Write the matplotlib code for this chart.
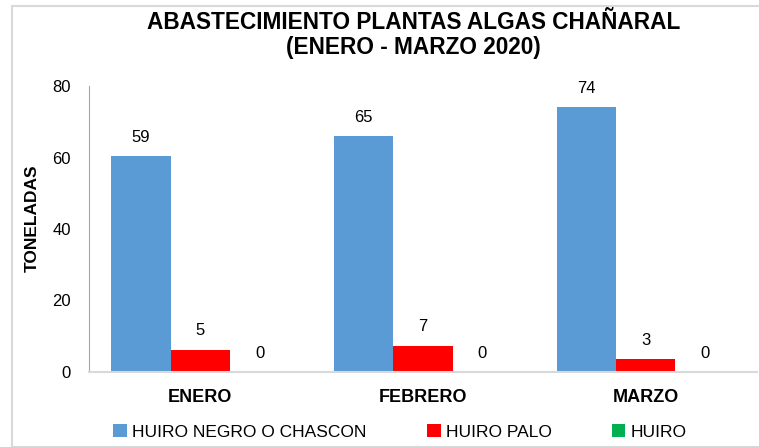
import matplotlib.pyplot as plt
import numpy as np
from matplotlib.patches import Rectangle

plt.rcParams['font.family'] = ['Liberation Sans', 'DejaVu Sans']

meses = ['ENERO', 'FEBRERO', 'MARZO']
series = ['HUIRO NEGRO O CHASCON', 'HUIRO PALO', 'HUIRO']
negro = [60.3, 66.0, 74.0]
palo = [6.2, 7.4, 3.6]
huiro = [0, 0, 0]
negro_lbl = ['59', '65', '74']
palo_lbl = ['5', '7', '3']
huiro_lbl = ['0', '0', '0']
colores = ['#5B9BD5', '#FF0000', '#00B050']

fig = plt.figure(figsize=(7.59, 4.47), dpi=100)
ax = fig.add_axes([89/759, 1-372/447, 668/759, 286/447])

x = np.arange(len(meses))
w = 0.266
datos = [negro, palo, huiro]
etiquetas = [negro_lbl, palo_lbl, huiro_lbl]
for i in range(3):
    pos = x + (i-1)*w
    ax.bar(pos, datos[i], width=w, color=colores[i], label=series[i])
    for p, v, t in zip(pos, datos[i], etiquetas[i]):
        ax.text(p, v + 3.2, t, ha='center', va='bottom', fontsize=12)

ax.set_xlim(-0.5, 2.5)
ax.set_ylim(0, 80)
ax.set_yticks([0, 20, 40, 60, 80])
ax.set_xticks(x)
ax.set_xticklabels(meses, fontweight='bold', fontsize=13)
ax.tick_params(axis='x', length=0, pad=12)
ax.tick_params(axis='y', length=0, pad=13, labelsize=12)
ax.spines['top'].set_visible(False)
ax.spines['right'].set_visible(False)
ax.spines['left'].set_color('#A6A6A6')
ax.spines['bottom'].set_color('#D9D9D9')
ax.spines['bottom'].set_linewidth(1.5)

fig.text(32/759, 1-218/447, 'TONELADAS', rotation=90, ha='center', va='center',
         fontweight='bold', fontsize=12.5)

fig.text(0.545, 1-35/447, 'ABASTECIMIENTO PLANTAS ALGAS CHAÑARAL\n(ENERO - MARZO 2020)',
         ha='center', va='center', fontsize=16.3, fontweight='bold', linespacing=1.1)

fig.legend(loc='center', bbox_to_anchor=(0.527, 1-432/447), ncol=3, frameon=False,
           fontsize=12.5, handlelength=0.8, handleheight=0.8, columnspacing=3.45,
           handletextpad=0.3)

fig.patches.append(Rectangle((12/759, 0), 760/759, 1-6/447, transform=fig.transFigure,
                             fill=False, edgecolor='#D9D9D9', linewidth=1.5))

plt.savefig('out.png', dpi=100)
